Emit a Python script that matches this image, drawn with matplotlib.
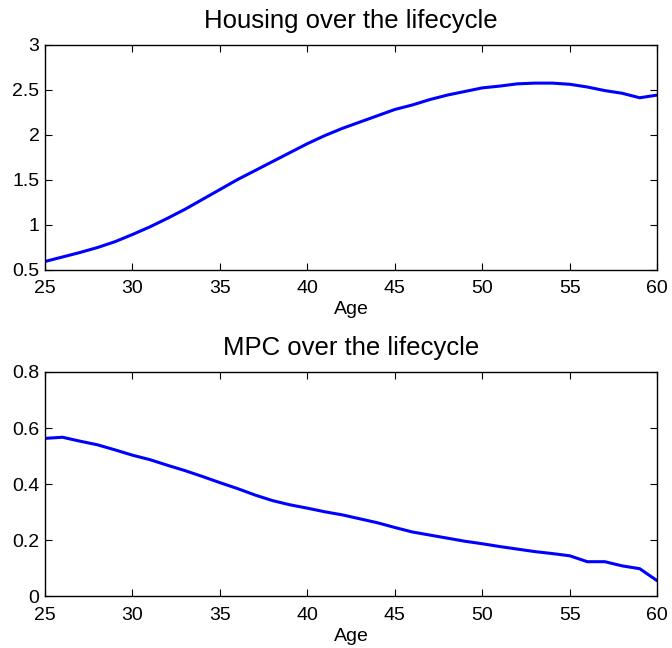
import numpy as np
import matplotlib
matplotlib.use("Agg")
import matplotlib.pyplot as plt

plt.rcParams["font.family"] = ["Liberation Sans", "DejaVu Sans"]

# ── Data ───────────────────────────────────────────────────────────────────
ages = list(range(25, 61))

housing = [0.59, 0.64, 0.69, 0.745, 0.81, 0.89, 0.975, 1.07, 1.17, 1.28,
           1.39, 1.50, 1.60, 1.70, 1.80, 1.90, 1.99, 2.07, 2.14, 2.21,
           2.28, 2.33, 2.39, 2.44, 2.48, 2.52, 2.54, 2.565, 2.573, 2.573,
           2.56, 2.53, 2.49, 2.46, 2.41, 2.44]

mpc = [0.563, 0.567, 0.553, 0.540, 0.522, 0.503, 0.487, 0.467, 0.448, 0.427,
       0.405, 0.384, 0.361, 0.341, 0.326, 0.314, 0.301, 0.290, 0.276, 0.262,
       0.245, 0.229, 0.218, 0.207, 0.196, 0.187, 0.177, 0.168, 0.159, 0.152,
       0.144, 0.123, 0.123, 0.108, 0.098, 0.055]

x_ticks = [25, 30, 35, 40, 45, 50, 55, 60]
housing_ticks = [0.5, 1, 1.5, 2, 2.5, 3]
housing_labels = ["0.5", "1", "1.5", "2", "2.5", "3"]
mpc_ticks = [0, 0.2, 0.4, 0.6, 0.8]
mpc_labels = ["0", "0.2", "0.4", "0.6", "0.8"]


def style_axes(ax, title, yticks, ylabels, ylim):
    ax.set_xlim(25, 60)
    ax.set_ylim(*ylim)
    ax.set_xticks(x_ticks)
    ax.set_xticklabels([str(t) for t in x_ticks])
    ax.set_yticks(yticks)
    ax.set_yticklabels(ylabels)
    ax.tick_params(direction="in", length=5, width=0.8, top=True, right=True,
                   labelsize=14)
    ax.tick_params(axis="x", pad=7.5)
    ax.tick_params(axis="y", pad=4)
    for s in ax.spines.values():
        s.set_linewidth(1.0)
    ax.set_xlabel("Age", fontsize=14, labelpad=3)
    ax.set_title(title, fontsize=18.5, pad=12)


fig = plt.figure(figsize=(6.72, 6.48), dpi=100)
ax1 = fig.add_axes([0.067, 0.584, 0.911, 0.347])
ax2 = fig.add_axes([0.067, 0.080, 0.911, 0.346])

ax1.plot(ages, housing, color="#0000ff", linewidth=2.2)
style_axes(ax1, "Housing over the lifecycle", housing_ticks, housing_labels, (0.5, 3))

ax2.plot(ages, mpc, color="#0000ff", linewidth=2.2)
style_axes(ax2, "MPC over the lifecycle", mpc_ticks, mpc_labels, (0, 0.8))

fig.savefig("out.png", dpi=100)
